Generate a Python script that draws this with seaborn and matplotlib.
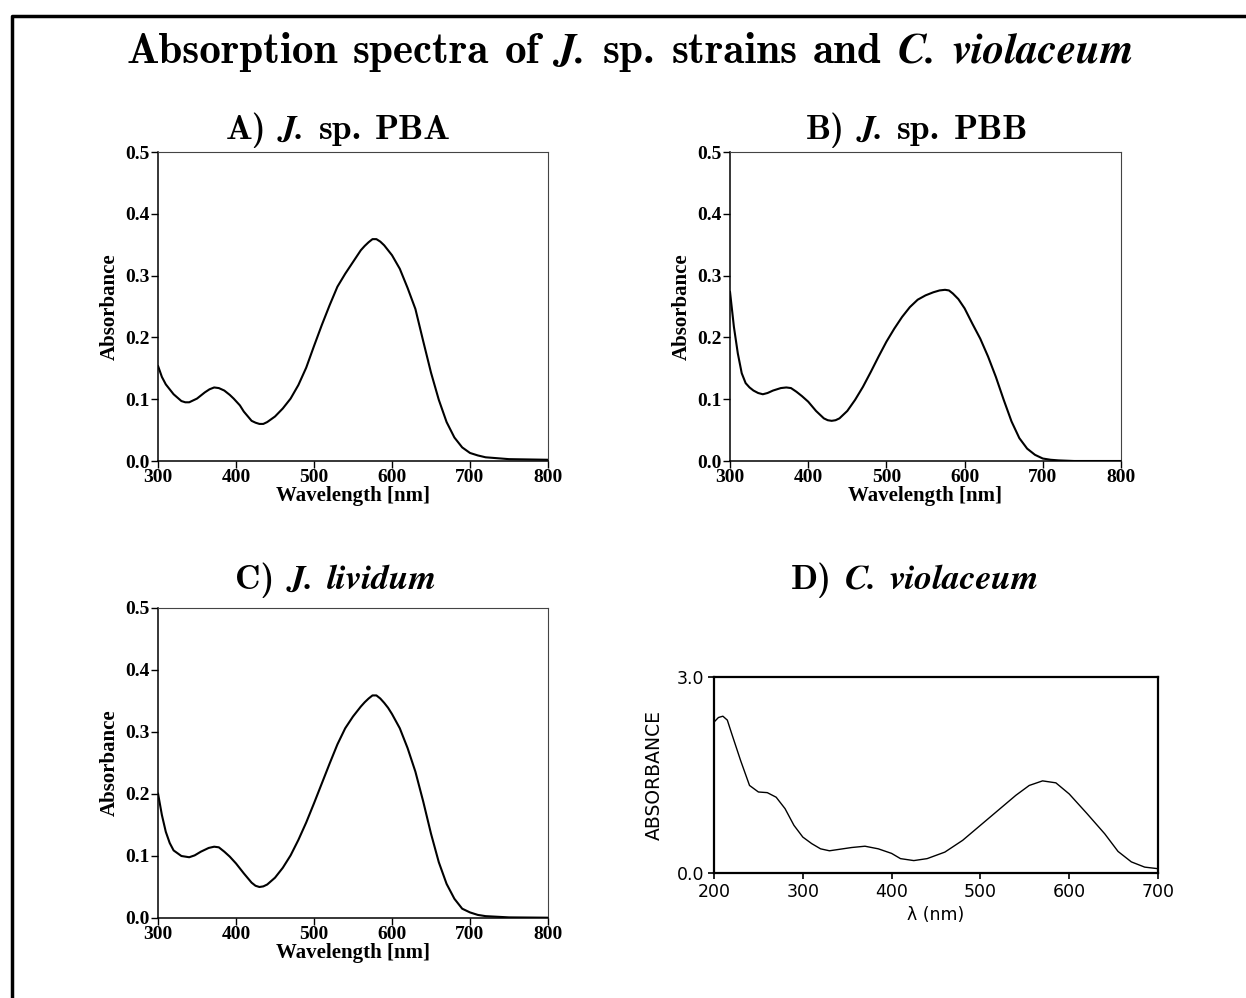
import os
import numpy as np
import pandas as pd
import matplotlib
matplotlib.use("Agg")
import matplotlib.pyplot as plt
from matplotlib.lines import Line2D
from matplotlib.font_manager import FontProperties
import seaborn as sns

# --- data ------------------------------------------------------------------
wl_a = [300, 305, 310, 320, 330, 335, 340, 350, 360, 366, 372, 378, 385, 392,
        397, 405, 410, 420, 425, 430, 435, 440, 450, 460, 470, 480, 490, 500,
        510, 520, 530, 540, 550, 560, 565, 570, 575, 580, 585, 590, 595, 600,
        610, 620, 630, 640, 650, 660, 670, 680, 690, 700, 710, 720, 750, 800]
abs_a = [0.154, 0.136, 0.124, 0.108, 0.097, 0.095, 0.095, 0.101, 0.111, 0.116,
         0.119, 0.118, 0.114, 0.107, 0.101, 0.090, 0.080, 0.065, 0.062, 0.060,
         0.060, 0.063, 0.072, 0.085, 0.101, 0.123, 0.151, 0.186, 0.220, 0.252,
         0.282, 0.303, 0.322, 0.341, 0.348, 0.354, 0.359, 0.359, 0.355, 0.349,
         0.341, 0.333, 0.311, 0.280, 0.246, 0.194, 0.143, 0.099, 0.063, 0.038,
         0.022, 0.013, 0.009, 0.006, 0.003, 0.002]

wl_b = [300, 305, 310, 315, 320, 325, 330, 336, 342, 348, 355, 365, 372, 378,
        385, 392, 400, 410, 420, 425, 430, 435, 440, 450, 460, 470, 480, 490,
        500, 510, 520, 530, 540, 550, 560, 568, 575, 580, 585, 592, 600, 610,
        620, 630, 640, 650, 660, 670, 680, 690, 700, 710, 720, 740, 800]
abs_b = [0.274, 0.217, 0.174, 0.142, 0.126, 0.119, 0.114, 0.110, 0.108, 0.110,
         0.114, 0.118, 0.119, 0.118, 0.112, 0.105, 0.096, 0.081, 0.069, 0.066,
         0.065, 0.066, 0.069, 0.081, 0.099, 0.120, 0.144, 0.169, 0.193, 0.214,
         0.233, 0.249, 0.261, 0.268, 0.273, 0.276, 0.277, 0.276, 0.271, 0.262,
         0.247, 0.222, 0.198, 0.169, 0.136, 0.099, 0.064, 0.037, 0.020, 0.010,
         0.004, 0.002, 0.001, 0.0, 0.0]

wl_c = [300, 305, 310, 315, 320, 330, 340, 347, 355, 365, 372, 378, 385, 392,
        400, 410, 420, 425, 430, 435, 440, 450, 460, 470, 480, 490, 500, 510,
        520, 530, 540, 550, 560, 565, 570, 575, 580, 585, 590, 595, 600, 610,
        620, 630, 640, 650, 660, 670, 680, 690, 700, 710, 720, 750, 800]
abs_c = [0.201, 0.166, 0.139, 0.121, 0.109, 0.100, 0.098, 0.101, 0.107, 0.113,
         0.115, 0.114, 0.107, 0.099, 0.088, 0.072, 0.057, 0.052, 0.050, 0.051,
         0.054, 0.065, 0.081, 0.101, 0.126, 0.154, 0.185, 0.217, 0.249, 0.280,
         0.306, 0.325, 0.341, 0.348, 0.354, 0.359, 0.359, 0.354, 0.347, 0.339,
         0.329, 0.306, 0.274, 0.236, 0.188, 0.136, 0.090, 0.055, 0.031, 0.015,
         0.009, 0.005, 0.003, 0.001, 0.0005]

wl_d = [200, 205, 210, 215, 220, 230, 240, 250, 260, 270, 280, 290, 300, 310,
        320, 330, 340, 355, 370, 385, 400, 410, 425, 440, 460, 480, 500, 520,
        540, 555, 570, 585, 600, 620, 640, 655, 670, 685, 700]
abs_d = [2.31, 2.38, 2.40, 2.34, 2.13, 1.72, 1.34, 1.24, 1.23, 1.16, 0.985, 0.73,
         0.55, 0.45, 0.37, 0.34, 0.36, 0.39, 0.41, 0.37, 0.30, 0.22, 0.19, 0.22,
         0.32, 0.50, 0.73, 0.96, 1.19, 1.34, 1.41, 1.38, 1.21, 0.91, 0.60, 0.33,
         0.17, 0.09, 0.066]

# titles as runs of (word, style): "b" bold upright, "bi" bold italic
suptitle = [("Absorption", "b"), ("spectra", "b"), ("of", "b"), ("J.", "bi"),
            ("sp.", "b"), ("strains", "b"), ("and", "b"), ("C.", "bi"),
            ("violaceum", "bi")]
titles = [
    [("A)", "b"), ("J.", "bi"), ("sp.", "b"), ("PBA", "b")],
    [("B)", "b"), ("J.", "bi"), ("sp.", "b"), ("PBB", "b")],
    [("C)", "b"), ("J.", "bi"), ("lividum", "bi")],
    [("D)", "b"), ("C.", "bi"), ("violaceum", "bi")],
]

# --- style -----------------------------------------------------------------
sns.set_style("ticks")
plt.rcParams["font.family"] = ["Liberation Serif", "DejaVu Serif"]
for key in ["text.color", "axes.labelcolor", "xtick.color", "ytick.color", "axes.edgecolor"]:
    plt.rcParams[key] = "black"

ttf_dir = os.path.join(matplotlib.get_data_path(), "fonts", "ttf")
fonts = {
    "b": FontProperties(fname=os.path.join(ttf_dir, "cmb10.ttf")),
    "bi": FontProperties(fname=os.path.join(ttf_dir, "STIXGeneralBolIta.ttf")),
}

W, H = 1246, 998
fig = plt.figure(figsize=(W / 100, H / 100), dpi=100)
renderer = fig.canvas.get_renderer()


def px_axes(left, top, right, bottom):
    return fig.add_axes([left / W, 1 - bottom / H, (right - left) / W, (bottom - top) / H])


def rich_title(runs, xc, y, size):
    # lay the words out left to right, centred on xc (pixels), baseline at y
    items = []
    for word, style in runs:
        fp = fonts[style].copy()
        fp.set_size(size)
        t = fig.text(0, 1 - y / H, word, fontproperties=fp, va="baseline", ha="left")
        items.append((t, t.get_window_extent(renderer).width))
    gap = 0.36 * size * 100 / 72
    total = sum(w for _, w in items) + gap * (len(items) - 1)
    x = xc - total / 2
    for t, w in items:
        t.set_x(x / W)
        x += w + gap


frames = [
    (158, 152, 548, 461, wl_a, abs_a),
    (730, 152, 1121, 461, wl_b, abs_b),
    (158, 608, 548, 918, wl_c, abs_c),
]
for left, top, right, bottom, wl, ab in frames:
    ax = px_axes(left, top, right, bottom)
    df = pd.DataFrame({"wl": wl, "abs": ab})
    sns.lineplot(data=df, x="wl", y="abs", ax=ax, color="black", linewidth=1.5,
                 sort=False, solid_joinstyle="round")
    ax.set_xlim(300, 800)
    ax.set_ylim(0, 0.5)
    ax.set_xticks(np.arange(300, 801, 100))
    ax.set_yticks(np.arange(0, 0.51, 0.1))
    ax.set_yticklabels([f"{v:.1f}" for v in np.arange(0, 0.51, 0.1)])
    ax.tick_params(direction="out", length=5, width=1, pad=1, labelsize=14,
                   top=False, right=False)
    for lab in ax.get_xticklabels() + ax.get_yticklabels():
        lab.set_fontweight("bold")
    for side in ["left", "bottom"]:
        ax.spines[side].set_linewidth(1.1)
    for side in ["top", "right"]:
        ax.spines[side].set_linewidth(0.8)
        ax.spines[side].set_color("#444444")
    ax.set_xlabel("Wavelength [nm]", fontsize=15, fontweight="bold", labelpad=0)
    ax.set_ylabel("Absorbance", fontsize=15, fontweight="bold", labelpad=4)

# panel D: the old scanned spectrum
sans = ["DejaVu Sans"]
axd = px_axes(714, 677, 1158, 873)
dfd = pd.DataFrame({"wl": wl_d, "abs": abs_d})
sns.lineplot(data=dfd, x="wl", y="abs", ax=axd, color="black", linewidth=1.0,
             sort=False, solid_joinstyle="round")
axd.set_xlim(200, 700)
axd.set_ylim(0, 3)
axd.set_xticks(np.arange(200, 701, 100))
axd.set_yticks([0, 3])
axd.set_yticklabels(["0.0", "3.0"])
axd.tick_params(direction="out", length=4, width=1.2, pad=3, labelsize=12.5,
                top=False, right=False)
for lab in axd.get_xticklabels() + axd.get_yticklabels():
    lab.set_family(sans)
for side in axd.spines:
    axd.spines[side].set_linewidth(1.6)
    axd.spines[side].set_visible(True)
axd.set_xlabel("λ (nm)", fontsize=12.5, family=sans, labelpad=4)
axd.set_ylabel("ABSORBANCE", fontsize=13.5, family=sans, labelpad=9)

# titles
rich_title(suptitle, 630, 63, 31)
rich_title(titles[0], 338, 139, 25.5)
rich_title(titles[1], 917, 139, 25.5)
rich_title(titles[2], 336, 589, 25.5)
rich_title(titles[3], 915, 589, 25.5)

# border on the left and top edge
fig.add_artist(Line2D([12 / W, 12 / W, 1], [0, 1 - 16 / H, 1 - 16 / H],
                      transform=fig.transFigure, color="black", linewidth=2.5))

fig.savefig("out.png", dpi=100)
